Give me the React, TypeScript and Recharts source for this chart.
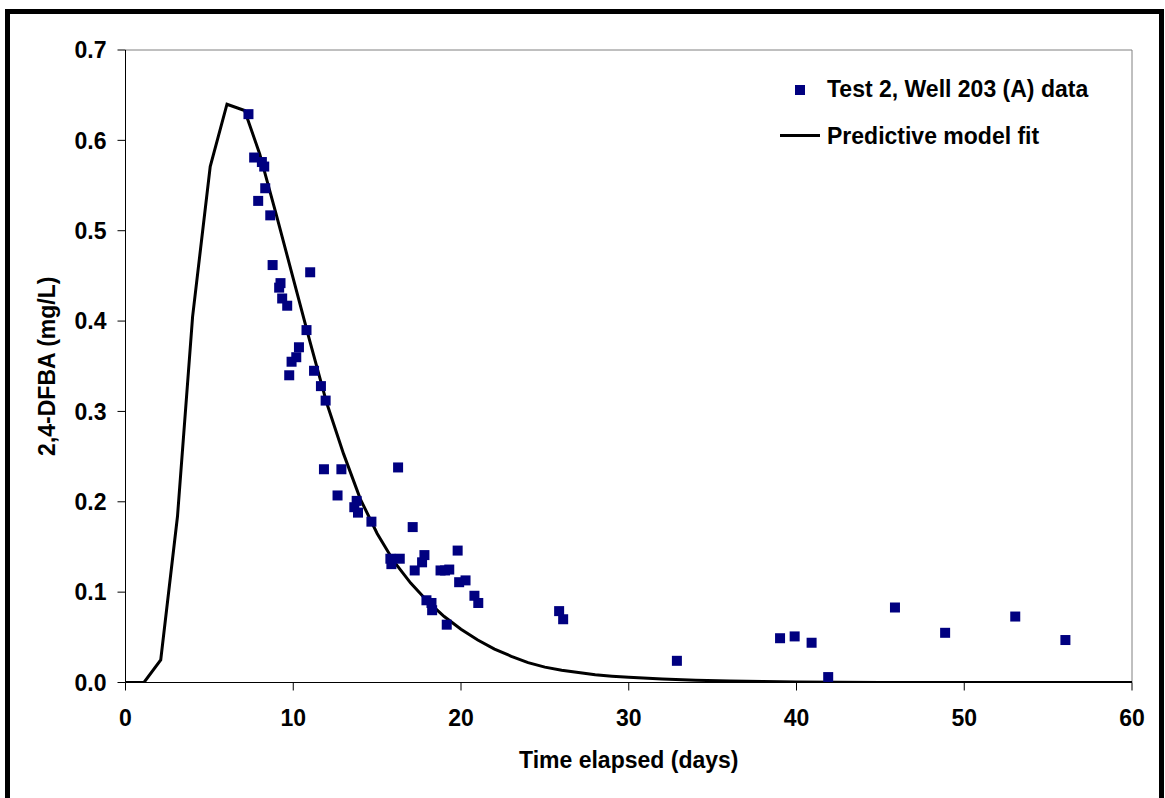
import React from "react";
import {
  ComposedChart,
  Line,
  Scatter,
  XAxis,
  YAxis,
  ReferenceLine,
} from "recharts";

// measured tracer data (days, mg/L)
const dataDays = [
  7.33, 7.67, 8.13, 8.27, 8.33, 7.91, 8.63, 8.77, 11.01, 9.24, 9.16, 9.34,
  9.64, 10.79, 10.34, 10.18, 9.9, 9.76, 11.24, 11.65, 11.93, 11.83, 12.87,
  16.25, 12.64, 13.78, 13.64, 13.86, 14.66, 17.12, 19.8, 17.82, 17.68, 17.24,
  15.79, 16.35, 15.85, 18.78, 19.05, 19.3, 19.89, 20.27, 20.8, 21.03, 17.94,
  18.24, 18.28, 19.15, 25.85, 26.09, 32.87, 39.02, 39.89, 40.9, 41.89, 45.87,
  48.86, 53.04, 56.03,
];
const dataConc = [
  0.629, 0.581, 0.576, 0.571, 0.547, 0.533, 0.517, 0.462, 0.454, 0.442, 0.437,
  0.425, 0.417, 0.39, 0.371, 0.36, 0.355, 0.34, 0.345, 0.328, 0.312, 0.236,
  0.236, 0.238, 0.207, 0.201, 0.194, 0.188, 0.178, 0.172, 0.146, 0.141, 0.133,
  0.124, 0.137, 0.137, 0.131, 0.124, 0.124, 0.125, 0.111, 0.113, 0.096, 0.088,
  0.091, 0.088, 0.08, 0.064, 0.079, 0.07, 0.024, 0.049, 0.051, 0.044, 0.006,
  0.083, 0.055, 0.073, 0.047,
];

// predictive model curve
const modelDays = [
  0, 1.1, 2.1, 3.1, 4.0, 5.05, 6.05, 7.1, 8, 9, 10, 11, 12, 13, 14, 15, 16,
  17, 18, 19, 20, 21, 22, 23, 24, 25, 26, 27, 28, 29, 30, 32, 34, 36, 38, 40,
  45, 50, 55, 60,
];
const modelConc = [
  0, 0, 0.025, 0.184, 0.405, 0.571, 0.64, 0.633, 0.585, 0.517, 0.447, 0.377,
  0.309, 0.253, 0.203, 0.165, 0.134, 0.11, 0.09, 0.073, 0.059, 0.047, 0.037,
  0.029, 0.022, 0.017, 0.0135, 0.011, 0.0085, 0.007, 0.0058, 0.0038, 0.0026,
  0.0016, 0.001, 0.0006, 0.0001, 0, 0, 0,
];

const xTicks = [0, 10, 20, 30, 40, 50, 60];
const yTicks = [0, 0.1, 0.2, 0.3, 0.4, 0.5, 0.6, 0.7];

const points = dataDays.map((x, i) => ({ x, y: dataConc[i] }));
const model = modelDays.map((x, i) => ({ x, y: modelConc[i] }));

const FONT = "'Liberation Sans', Arial, sans-serif";
const NAVY = "#000080";

const tickStyle = {
  fontFamily: FONT,
  fontSize: 23,
  fontWeight: 700,
  fill: "#000",
};

function SquareDot(props: any) {
  const { cx, cy } = props;
  if (cx == null || cy == null) return null;
  return <rect x={cx - 5} y={cy - 5} width={10} height={10} fill={NAVY} />;
}

export default function App() {
  return (
    <div
      style={{
        position: "absolute",
        left: 0,
        top: 0,
        width: 1165,
        height: 798,
        overflow: "hidden",
        background: "#fff",
        fontFamily: FONT,
      }}
    >
      <div
        style={{
          position: "absolute",
          left: 5,
          top: 9,
          width: 1159,
          height: 810,
          boxSizing: "border-box",
          borderLeft: "5px solid #000",
          borderTop: "5px solid #000",
          borderRight: "5px solid #000",
        }}
      />
      <div style={{ position: "absolute", left: 0, top: 0 }}>
        <ComposedChart
          width={1165}
          height={798}
          margin={{ top: 50, right: 33, bottom: 75.5, left: 0 }}
        >
          <XAxis
            type="number"
            dataKey="x"
            domain={[0, 60]}
            ticks={xTicks}
            allowDataOverflow
            height={40}
            tick={tickStyle}
            tickSize={8}
            tickMargin={19}
            stroke="#000"
            label={{
              value: "Time elapsed (days)",
              position: "insideBottom",
              offset: -45,
              style: { ...tickStyle, textAnchor: "middle" },
            }}
          />
          <YAxis
            type="number"
            dataKey="y"
            domain={[0, 0.7]}
            ticks={yTicks}
            allowDataOverflow
            width={125.5}
            tick={tickStyle}
            tickSize={8}
            tickMargin={11}
            tickFormatter={(v: number) => v.toFixed(1)}
            stroke="#000"
            label={{
              value: "2,4-DFBA (mg/L)",
              angle: -90,
              position: "insideLeft",
              offset: 0,
              dx: 47,
              style: { ...tickStyle, textAnchor: "middle" },
            }}
          />
          <ReferenceLine y={0.7} stroke="#808080" strokeWidth={1} />
          <ReferenceLine x={60} stroke="#808080" strokeWidth={1} />
          <Line
            data={model}
            dataKey="y"
            type="linear"
            stroke="#000"
            strokeWidth={3}
            dot={false}
            activeDot={false}
            isAnimationActive={false}
          />
          <Scatter
            data={points}
            dataKey="y"
            fill={NAVY}
            shape={SquareDot}
            isAnimationActive={false}
          />
        </ComposedChart>
      </div>
      {/* legend */}
      <div
        style={{
          position: "absolute",
          left: 795,
          top: 85,
          width: 10,
          height: 10,
          background: NAVY,
        }}
      />
      <div
        style={{
          position: "absolute",
          left: 827,
          top: 78,
          fontSize: 23,
          lineHeight: "23px",
          fontWeight: 700,
          whiteSpace: "nowrap",
        }}
      >
        Test 2, Well 203 (A) data
      </div>
      <div
        style={{
          position: "absolute",
          left: 780,
          top: 133.5,
          width: 40,
          height: 3,
          background: "#000",
        }}
      />
      <div
        style={{
          position: "absolute",
          left: 827,
          top: 124.5,
          fontSize: 23,
          lineHeight: "23px",
          fontWeight: 700,
          whiteSpace: "nowrap",
        }}
      >
        Predictive model fit
      </div>
    </div>
  );
}
